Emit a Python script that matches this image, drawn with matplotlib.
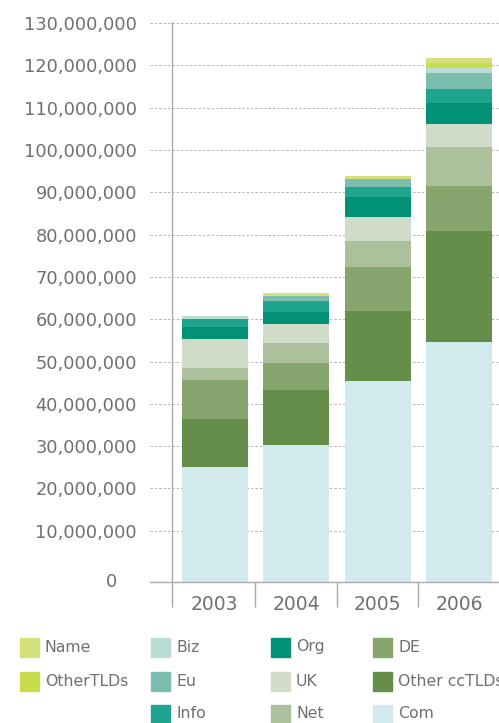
import numpy as np
import matplotlib
matplotlib.use("Agg")
import matplotlib.pyplot as plt
from matplotlib.patches import Rectangle

# domain counts per year, millions
years = ["2003", "2004", "2005", "2006"]
com = [25.1, 30.3, 45.4, 54.6]
other_cc = [11.4, 13.0, 16.5, 26.3]
de = [9.1, 6.3, 10.4, 10.6]
net = [2.9, 4.8, 6.2, 9.2]
uk = [6.8, 4.5, 5.7, 5.4]
org = [2.9, 2.8, 4.7, 5.0]
info = [1.8, 2.6, 2.4, 3.3]
eu = [0.0, 1.2, 1.8, 3.9]
biz = [0.8, 0.0, 0.0, 1.2]
other_tlds = [0.0, 0.0, 0.0, 1.1]
name = [0.0, 0.7, 0.8, 1.1]

yticks = [10, 20, 30, 40, 50, 60, 70, 80, 90, 100, 110, 120, 130]

# stacked bottom -> top
layers = [
    ("Com", com, "#d2e9ee"),
    ("Other ccTLDs", other_cc, "#668e4b"),
    ("DE", de, "#87a66e"),
    ("Net", net, "#acc19b"),
    ("UK", uk, "#d1dcc8"),
    ("Org", org, "#009177"),
    ("Info", info, "#1fa58e"),
    ("Eu", eu, "#7bbdaf"),
    ("Biz", biz, "#b9dcd5"),
    ("OtherTLDs", other_tlds, "#c9db4a"),
    ("Name", name, "#d5e07b"),
]

TXT = "#707070"
LINE = "#aaaaaa"
Y_MIN = -2.1  # axis line sits a bit below the zero of the grid

plt.rcParams["font.family"] = ["DejaVu Sans"]

fig = plt.figure(figsize=(4.99, 7.23), dpi=100)
ax = fig.add_axes([150 / 499, 141 / 723, 349 / 499, 560 / 723])

x = np.arange(len(years))
bottom = np.full(len(years), Y_MIN)
for i, (lab, vals, col) in enumerate(layers):
    vals = np.array(vals)
    h = vals - Y_MIN if i == 0 else vals
    ax.bar(x, h, 0.81, bottom=bottom, color=col, zorder=3, linewidth=0)
    bottom = bottom + h

ax.set_xlim(-0.794, 3.488)
ax.set_ylim(Y_MIN, 130.26)

ax.set_yticks(yticks)
ax.set_yticklabels([f"{v * 1000000:,}" for v in yticks], fontsize=12.8, color=TXT)
ax.tick_params(axis="y", length=0, pad=9.4)
ax.yaxis.grid(True, color="#b5b5b5", linestyle=(0, (2.5, 2)), linewidth=0.7, zorder=0)
ax.annotate("0", xy=(0, Y_MIN), xycoords=("axes fraction", "data"),
            xytext=(-33, 0), textcoords="offset pixels",
            ha="right", va="center", fontsize=12.8, color=TXT)

ax.set_xticks(x)
ax.set_xticklabels(years, fontsize=13.5, color=TXT)
ax.tick_params(axis="x", which="major", length=0, pad=9)
ax.set_xticks([-0.52, 0.5, 1.5, 2.5], minor=True)
ax.tick_params(axis="x", which="minor", length=18, width=1, color=LINE, direction="out")
ax.axvline(-0.52, color=LINE, linewidth=1, zorder=4)

for s in ["top", "right", "left"]:
    ax.spines[s].set_visible(False)
ax.spines["bottom"].set_color(LINE)
ax.spines["bottom"].set_linewidth(1)
ax.spines["bottom"].set_zorder(4)

# legend, laid out in columns like the original
leg_cols = [["Name", "OtherTLDs"], ["Biz", "Eu", "Info"],
            ["Org", "UK", "Net"], ["DE", "Other ccTLDs", "Com"]]
col_x = [20, 151, 271, 373]
row_y = [647, 681, 714]
colors = {lab: col for lab, _, col in layers}
W, H = 499.0, 723.0
for cx, entries in zip(col_x, leg_cols):
    for ry, lab in zip(row_y, entries):
        fig.add_artist(Rectangle((cx / W, (H - ry - 9.5) / H), 19 / W, 19 / H,
                                 transform=fig.transFigure, color=colors[lab]))
        fig.text((cx + 25) / W, (H - ry) / H, lab, fontsize=11.3, color=TXT,
                 ha="left", va="center")

fig.savefig("out.png", dpi=100)
